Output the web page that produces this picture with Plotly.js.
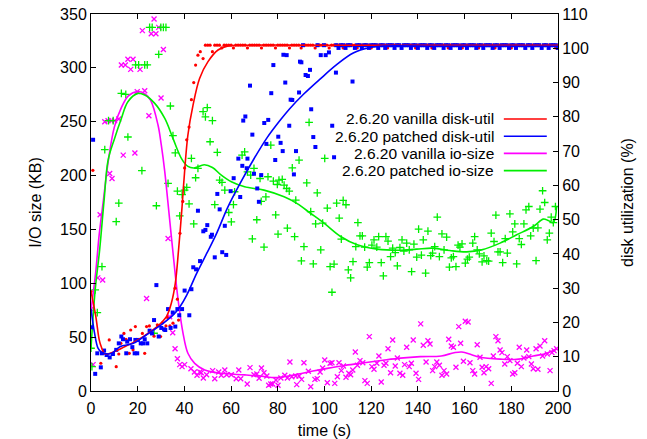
<!DOCTYPE html>
<html>
<head>
<meta charset="utf-8">
<script src="https://cdn.plot.ly/plotly-3.0.1.min.js"></script>
<style>html,body{margin:0;padding:0;background:#fff;}#chart{width:647px;height:439px;}</style>
</head>
<body>
<div id="chart"></div>
<script>
// ---- data ----
const seriesNames = ["2.6.20 vanilla disk-util", "2.6.20 patched disk-util", "2.6.20 vanilla io-size", "2.6.20 patched io-size"];
const xTicks = [0, 20, 40, 60, 80, 100, 120, 140, 160, 180, 200];
const yTicks = [0, 50, 100, 150, 200, 250, 300, 350];
const y2Ticks = [0, 10, 20, 30, 40, 50, 60, 70, 80, 90, 100, 110];

// vanilla disk-util samples (%)
const tRed = [0,0.8,4.2,7.8,10.8,11.9,12.8,14.1,15.0,16.4,17.0,18.0,19.0,22.0,23.0,23.8,25.0,27.0,28.4,29.8,30.7,32.1,32.7,33.8,35.1,36.0,37.0,37.5,38.1,39.3,40.1,41.0,42.0,43.0,44.0,44.8,45.8,46.8,48.0,
 49,50,51,52,53,54,55,56,57,58,59,60,61,62,63,64,65,66,67,68,69,70,71,72,73,74,75,76,77,78,79,80,81,82,83,84,85,86,87,88,89,90,91,92,93,94,95,96,97,98,99,100,
 101,102,103,104,105,106,107,108,109,110,111,112,113,114,115,116,117,118,119,120,121,122,123,124,125,126,127,128,129,130,131,132,133,134,135,136,137,138,139,140,
 141,142,143,144,145,146,147,148,149,150,151,152,153,154,155,156,157,158,159,160,161,162,163,164,165,166,167,168,169,170,171,172,173,174,175,176,177,178,179,180,
 181,182,183,184,185,186,187,188,189,190,191,192,193,194,195,196,197,198,199,200];
const uRed = [29,64.4,8.1,14.9,7.1,10.8,13.9,16.8,15.1,11,17.8,12,18.8,16.8,11,18.8,19,16,19.3,15.9,19.9,19,21.5,19,19.8,30,26.8,20.7,46,55.3,65.1,73.3,77,85,90,95.1,98,99,97,
 100.9,100.9,100.9,99.0,100.9,100.9,100.9,100.1,100.9,100.9,
 100.9,100.9,100.1,100.9,100.9,100.9,100.9,100.9,100.1,100.9,
 100.9,100.9,100.9,100.9,100.1,100.9,100.9,100.9,100.9,100.9,
 100.1,100.9,100.9,100.9,100.9,100.9,100.1,100.9,100.9,100.9,
 100.9,100.1,100.9,100.9,100.9,100.9,100.9,100.1,100.9,100.9,
 100.9,100.9,100.9,100.1,100.9,100.9,100.9,100.9,100.9,100.1,
 100.9,100.9,100.9,100.9,100.9,100.1,100.9,100.9,100.9,100.9,
 100.9,100.1,100.9,100.9,100.9,100.9,100.9,100.9,100.1,100.9,
 100.9,100.9,100.9,100.9,100.1,100.9,100.9,100.9,100.9,100.9,
 100.1,100.9,100.9,100.9,100.9,100.9,100.9,100.1,100.9,100.9,
 100.9,100.9,100.9,100.9,100.1,100.9,100.9,100.9,100.9,100.9,
 100.1,100.9,100.9,100.9,100.9,100.9,100.9,100.1,100.9,100.9,
 100.9,100.9,100.9,100.9,100.1,100.9,100.9,100.9,100.9,100.9,
 100.9,100.1,100.9,100.9,100.9,100.9,100.9,100.1,100.9,100.9,
 100.9,100.9,100.9,100.9,100.1,100.9,100.9,100.9,100.9,100.9,
 100.1,100.9];

// patched disk-util samples (%)
const tBlu = [0,0.9,1.8,2.7,4.2,4.7,5.6,6.7,8,9.4,10.8,11.9,13,13.7,15.1,15.5,16.7,17.7,18.7,19,19.8,20.1,21.3,22.3,23,24.1,25.1,26.1,27,28,
 29,30.1,31.3,31.8,33,34.1,35,36.1,37,37.8,39,40.1,42.1,43,43.8,45,45.8,46.7,48.1,49,49.8,51.3,51.8,53,54.1,55.1,56.2,57.3,57.9,59.8,
 61.1,63.1,63.9,64.8,65.2,66.1,66.7,67,68.1,69.1,69.8,71.2,71.9,72.9,74.2,75.1,75.9,77.2,78.1,78.9,80.2,81.2,82.1,82.4,83.2,83.8,84.9,85.5,86.2,86.9,
 87.8,89.1,89.5,90.1,90.8,91.9,92.9,93.8,94.3,95.2,96.1,97,98.4,99.8,100.5,101.9,103.3,104.1,104.9,
 105,106,107,108,109,110,111,112,113,114,115,116,117,118,119,120,121,122,123,124,125,126,127,128,129,130,131,132,133,134,
 135,136,137,138,139,140,141,142,143,144,145,146,147,148,149,150,151,152,153,154,155,156,157,158,159,160,161,162,163,164,
 165,166,167,168,169,170,171,172,173,174,175,176,177,178,179,180,181,182,183,184,185,186,187,188,189,190,191,192,193,194,
 195,196,197,198,199,200];
const uBlu = [18.6,73.3,5,11,6.9,11,11.8,10.5,9.8,10.8,12,13.9,15.9,15.1,11,14.4,15.1,12.8,11,14.9,11,14.9,13.9,13.9,15.1,13.9,17.6,16.8,20.7,30.9,
 15.9,18.4,18,17.8,23.9,18.4,22.9,18.8,23.9,22.1,23.9,29.3,22.1,29.7,36.1,35.5,52.6,37.9,46.6,47,48.4,45,45.6,39,57.5,53,40.5,48.2,39.7,58.3,
 62.1,67.8,56.6,65.7,78.9,80.1,65,67.8,89.1,74.8,63.4,59.1,55.2,63,78.2,72.1,79.1,86.9,95.1,67.4,74.2,72.4,70,98.1,90,98,77.4,85,84.9,63.2,
 70,87.1,96.1,95.9,100.9,92.2,91.9,93.7,82.2,74.1,71.2,100.9,98,100.9,98,98.8,77.4,68.2,92.9,
 100.9,100.1,100.9,100.9,100.1,100.9,100.9,90.3,100.1,100.9,
 100.9,100.1,100.9,100.9,100.1,100.9,100.9,100.9,100.1,100.9,
 100.9,100.1,100.9,100.9,100.9,100.1,100.9,100.9,100.1,100.9,
 100.9,100.9,100.1,100.9,100.9,100.1,100.9,100.9,100.9,100.1,
 100.9,100.9,100.1,100.9,100.9,100.9,100.1,100.9,100.9,100.1,
 100.9,100.9,100.9,100.1,100.9,100.9,100.1,100.9,100.9,100.9,
 100.1,100.9,100.9,100.1,100.9,100.9,100.9,100.1,100.9,100.9,
 100.1,100.9,100.9,100.9,100.1,100.9,100.9,100.1,100.9,100.9,
 100.9,100.1,100.9,100.9,100.1,100.9,100.9,100.9,100.1,100.9,
 100.9,100.1,100.9,100.9,100.9,100.1];

// vanilla io-size samples (KB)
const tMag = [0.1,0.9,2.9,3.9,5,5.9,7.3,8,8.7,9,10.1,11.9,13,13.8,14.7,15.8,17,18,18.8,19.8,21,22,23,23.8,24.8,25.8,27,27.8,29,30,31,33,33.7,35,36,37,38,39,40.1,42.8,
 44.3,45.4,46.6,47.2,48.1,49.5,52.1,53,54.7,55.8,57.3,58.1,60.1,62.2,63.3,64.1,66.9,68.1,69.8,71,72,73,74.1,75.3,76.1,77,77.8,79.2,80.1,81.3,83,84.1,85.2,86,87.7,88.1,89.1,
 90.2,91.2,93.1,94.1,95.9,96.9,98.1,99.2,100.1,101.2,102.4,103.2,104.4,105.5,106.2,107.2,108.1,109.2,110.4,111.2,112.1,113.2,114.1,115.2,116.4,117.3,118.3,119.2,120.3,121.2,
 122.4,123.3,124.3,125.5,126.3,127.2,128.3,129.2,130.3,131.2,132.3,
 133.5,134.3,135.2,136.3,137.2,138,139.2,140.3,141.2,142.3,143.5,144.3,145.2,146.3,147.2,148.1,149.2,150.3,151.2,152.3,153.2,154.3,155.2,156.3,157.5,158.3,159.5,160.3,161.5,
 162.3,163.5,164.3,165.4,166.6,167.5,168.3,169.2,170.3,171.4,172.3,173.4,174.3,175.2,176,177.2,178.3,179.4,180.6,181.5,182.6,183.4,184.3,185.4,186.6,187.5,188.6,189.4,190.6,191.4,
 192.3,193.4,194.3,195.4,196.6,197.4,198.3,199.4];
const kbMag = [76,24.5,105,163.6,103,250,251,202,251,197.3,251,252.5,302.7,219,302.7,308,298.6,308,221,277.9,298.6,334.6,278.8,85.8,255.6,331.6,345.4,331.6,337.6,272,317,141.5,69,54,39.3,30,24.5,22.6,24.5,20.7,
 17.7,14.6,17.7,17,12.1,15.1,18.9,11.4,17.7,14.6,19.5,15.1,15.1,11.4,19.5,11.4,6.5,21.7,15.1,15.8,11.8,21.4,17,13.9,5.3,6.5,6.5,10.2,5.3,12.1,14.6,12.1,27,13.3,13.9,5.9,13.9,
 10.8,26.3,18.3,4,10.8,11.5,17.7,21.4,28.8,7.7,25.7,26.3,7.1,13.3,26.3,18.9,23.2,12.7,16.4,15.1,19.5,36.2,23.9,28.2,26.3,9.6,7.1,50.5,22.6,20.2,
 25.7,32.5,8.4,23.9,25.7,39.3,17,47.4,23.2,30.7,16.4,
 14.6,24.5,40.6,22.6,25.7,47.4,16.4,10.8,62.3,42.5,27,46.7,43.7,18.9,22.6,27,23.9,14.6,18.9,15.8,48,41.8,40.6,22,59.8,44.3,27.6,64.8,64.1,
 26.3,18.9,15.8,43,31.3,22,17,22.6,20.7,7.1,32.5,50.5,46.7,38.1,35.6,25.1,31.9,28.2,15.8,17,25.7,40.6,22.6,30.7,38.1,31.9,25.1,20.7,39.3,20.2,
 41.8,32.5,46.7,34.4,18.9,35.6,37.5,39.3];

// patched io-size samples (KB)
const tGrn = [0,0.4,1.8,2.7,4.7,5.9,7.5,9.5,10.8,11.9,13,14.9,15.8,19.1,20.4,21.8,23,24.1,25.1,26.2,27,28,29,29.9,31,32.1,33,34,35.1,36.1,
 37,38,39,40.1,41,42,43,44,44.8,45.8,48,49,49.8,51,52,53,54.1,55.1,56.1,57.3,59,60.1,61,61.5,64.7,65.8,67,68.4,69.1,69.8,
 71,72.4,72.9,74.1,74.9,75.8,77,78.1,79.1,79.8,80.1,80.5,81.9,82.7,83.8,84.1,84.9,86.2,87.2,87.7,89.1,90.1,91.2,92.4,93.4,94.1,95.2,96.2,96.9,98.4,
 99.2,100.1,101.2,102.4,103.2,104.1,105.2,106.3,107.2,108,109.2,110.2,111.2,112.2,113.4,114.3,115.2,116.2,117.2,118.3,119.2,120.3,121.2,122.4,123.2,124.3,125.2,126.3,127.2,128.3,
 129.2,130.3,131.2,132.3,133.2,134,135.2,136.3,137.3,138.3,139.5,140.3,141.5,142.3,143.3,144.3,145.5,146.3,147.2,148.3,149.2,150.3,151.2,152.3,153.5,154.3,155.2,156.3,157.2,158,
 158.9,160.3,161.2,162,163.5,164.3,165.4,166.3,167.5,168.3,169.5,170.3,171.4,172.6,173.4,174.3,175.2,176.3,177.4,178.3,179.4,180.6,181.5,182.3,183.4,184.3,185.4,186.3,187.5,188.3,
 189.4,190.6,191.4,192.3,193.4,194.3,195.4,196.3,197.1,198,198.9];
const kbGrn = [39.7,22.6,93.9,72.8,115.5,224,251,251,157.3,174.4,276.3,275.4,235.8,302.7,302.7,204.5,302.7,302.7,337.6,337.6,53.6,172,312.5,337.6,337.6,337.6,192.7,264.6,237,221,
 185.6,162.6,182.4,186.5,189,173.8,216,155.2,198,206.6,259.3,254.4,263,231.4,251,173,221.5,195.8,193.6,186.5,165.7,157,173,185,219,222,203.5,200.4,141.3,206.6,
 159,197.3,176,133.6,180.3,198.9,228.3,194.9,163.6,191.7,145.6,195.8,196.4,191.2,188,151.2,185.6,207.2,143.4,177.2,214.4,120.8,134.1,193.3,249.3,166.6,118,155.2,184,131,
 155.8,216,169.8,115.5,91.7,117.7,174.4,160.5,141,176.9,172.9,112.5,105,120.2,134.1,156.4,144,144,133.6,115,119.2,135.4,140.3,133.6,143.4,119.2,106.9,143.4,139.1,124.8,
 132.6,128.5,116.2,133.2,140.3,129.8,137.3,131,110.9,136.3,124.3,150.3,126.1,140.3,109.4,148.4,125.7,128,134.1,161.4,124.8,145.9,131,142.8,115,123.6,124.8,115.5,135.4,133.6,
 136.6,118.7,122.4,124.3,137.3,143.4,131,127.3,119.9,125.5,121.1,120.5,146.6,138.8,163.3,129.2,129.2,119.2,141.5,128,164.5,147.8,155.2,118,141.5,136,155.2,168.2,171.3,144,
 151.2,121.1,151.5,168.9,185.9,175,140.3,146.6,161.4,156.4,171.3];

// smoothed curves
const tRedLine = [0,2,3.5,4.4,5.9,10.1,14.4,20.1,24.4,28.7,32.3,34.4,36.1,37.5,39,39.7,41.5,43.7,46.5,50.1,54.4,58.7,65.8,100,150,200];
const uRedLine = [29,22,15,12.9,10.8,11.5,12.9,14.9,16.8,19,21.7,25.6,31.4,41.2,53.8,60.5,74.7,83.4,91.2,96.1,99.5,100.7,100.9,100.9,100.9,100.9];
const tBluLine = [0,1.5,3,4.5,7,9,12.4,18.1,23.8,31,35.2,38.1,41,45.3,49.6,53.8,58.5,63.8,69.5,75.5,81,85,90.9,98.1,105.2,112.3,119.5,124,150,200];
const uBluLine = [24,17,12.5,11.3,10.8,11,12.9,13.9,16.4,19.8,22.2,24.6,28,34.4,40.2,46,53.5,60.5,67.4,74,79,82.3,86.5,91,95.2,98.6,100.2,100.6,100.6,100.6];
const tMagLine = [0,2,3.5,5.3,7.5,10,13,16,20,23,25.5,28.7,30.1,31.6,33,35,37.3,39.4,41.5,44.4,48.7,55.7,65.8,72,79.8,87,95,101.2,108,115.5,125,132.5,141,150,155.5,158.8,163,166.6,175.2,182.3,189.4,195.2,199.4];
const kbMagLine = [75,110,145,177,215,245,263,274,278,276,270,247,228.4,203.5,174,131,84.6,53.8,35,25.7,19.5,16.4,15,14,12.4,14.9,18.5,21,23.5,25.7,28.5,30.5,31.9,32.5,35.5,36.2,33.7,31.3,29.6,29.4,32.5,35,39.3];
const tGrnLine = [0,1.8,3.7,5.6,7.3,10.1,13,15.8,20.1,23,27.3,31.6,35.1,38.7,41.5,44,48.5,52,55.8,60.1,65.8,74.1,82.7,88.3,94,99.8,106.9,114,122.6,132.5,139.5,146.6,153.7,160.9,167.3,175.2,182.3,189.4,193.7,195.8,198,199.4];
const kbGrnLine = [40,94,131,177,214,234.5,253,268.6,276.3,274.8,267,253,234.5,216,208.5,207,210,207.5,200.4,194.2,189.6,186.5,180.3,174,165,155.8,143.4,135.7,131.7,130.7,131.7,132.6,130.4,129.2,131,137.3,145,152.7,159.6,158.3,156.4,171.3];

const colors = ["#ff0000", "#0000ff", "#ff00ff", "#00ee00"];

// ---- traces ----
const FONT = "Liberation Sans, Arial, Helvetica, sans-serif";
const traces = [
  {x: tRed, y: uRed, yaxis: "y2", mode: "markers", type: "scatter",
   marker: {symbol: "circle", size: 3.2, color: colors[0]}, showlegend: false, hoverinfo: "skip"},
  {x: tBlu, y: uBlu, yaxis: "y2", mode: "markers", type: "scatter",
   marker: {symbol: "square", size: 4, color: colors[1]}, showlegend: false, hoverinfo: "skip"},
  {x: tMag, y: kbMag, mode: "markers", type: "scatter",
   marker: {symbol: "x-thin", size: 5, color: colors[2], line: {color: colors[2], width: 1.3}}, showlegend: false, hoverinfo: "skip"},
  {x: tGrn, y: kbGrn, mode: "markers", type: "scatter",
   marker: {symbol: "cross-thin", size: 5.5, color: colors[3], line: {color: colors[3], width: 1.3}}, showlegend: false, hoverinfo: "skip"},
  {x: tRedLine, y: uRedLine, yaxis: "y2", mode: "lines", type: "scatter", name: seriesNames[0],
   line: {color: colors[0], width: 1.6, shape: "spline", smoothing: 1}},
  {x: tBluLine, y: uBluLine, yaxis: "y2", mode: "lines", type: "scatter", name: seriesNames[1],
   line: {color: colors[1], width: 1.6, shape: "spline", smoothing: 1}},
  {x: tMagLine, y: kbMagLine, mode: "lines", type: "scatter", name: seriesNames[2],
   line: {color: colors[2], width: 1.6, shape: "spline", smoothing: 1}},
  {x: tGrnLine, y: kbGrnLine, mode: "lines", type: "scatter", name: seriesNames[3],
   line: {color: colors[3], width: 1.6, shape: "spline", smoothing: 1}}
];

// gnuplot-style key: right-aligned text with a line sample on its right
const keyY = [0.7215, 0.6759, 0.6302, 0.5846];
const annotations = seriesNames.map((n, i) => ({
  text: n, xref: "paper", yref: "paper", x: 0.866, y: keyY[i],
  xanchor: "right", yanchor: "middle", showarrow: false, borderpad: 0,
  font: {family: FONT, size: 15.5, color: "#000"}
}));
const shapes = seriesNames.map((n, i) => ({
  type: "line", xref: "paper", yref: "paper", x0: 0.884, x1: 0.976, y0: keyY[i], y1: keyY[i],
  line: {color: colors[i], width: 1.6}
}));

const axisBase = {
  showgrid: false, zeroline: false, showline: true, linecolor: "#000", linewidth: 1,
  ticks: "inside", ticklen: 5, tickwidth: 1, tickcolor: "#000",
  tickfont: {family: FONT, size: 16, color: "#000"}
};

const layout = {
  width: 647, height: 439,
  margin: {l: 91, r: 89, t: 14, b: 48, pad: 0},
  paper_bgcolor: "#fff", plot_bgcolor: "#fff",
  font: {family: FONT, size: 16, color: "#000"},
  showlegend: false,
  xaxis: Object.assign({}, axisBase, {
    range: [0, 200], tickvals: xTicks, ticktext: xTicks.map(String), mirror: "ticks",
    ticklabelstandoff: 3,
    title: {text: "time (s)", font: {family: FONT, size: 16, color: "#000"}, standoff: 8}
  }),
  yaxis: Object.assign({}, axisBase, {
    range: [0, 350], tickvals: yTicks, ticktext: yTicks.map(String),
    title: {text: "I/O size (KB)", font: {family: FONT, size: 16, color: "#000"}, standoff: 14}
  }),
  yaxis2: Object.assign({}, axisBase, {
    range: [0, 110], tickvals: y2Ticks, ticktext: y2Ticks.map(String),
    overlaying: "y", side: "right",
    title: {text: "disk utilization (%)", font: {family: FONT, size: 16, color: "#000"}, standoff: 33}
  }),
  annotations: annotations,
  shapes: shapes
};

Plotly.newPlot("chart", traces, layout, {staticPlot: true, displayModeBar: false});
</script>
</body>
</html>
